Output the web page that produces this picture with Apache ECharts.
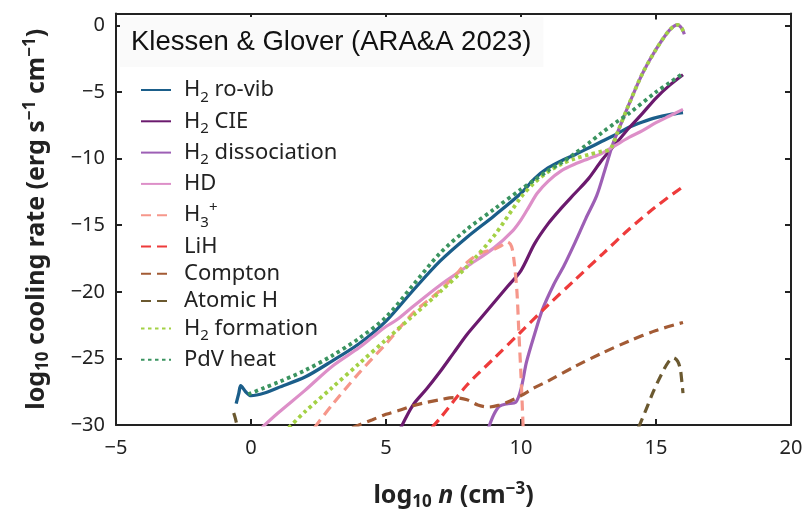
<!DOCTYPE html>
<html><head><meta charset="utf-8">
<script src="https://cdn.jsdelivr.net/npm/echarts@6/dist/echarts.min.js"></script>
<style>html,body{margin:0;padding:0;background:#fff}#c{width:806px;height:516px}</style>
</head><body><div id="c"></div>
<script>
// ---- axis settings ----
const xMin = -5, xMax = 20, xStep = 5;
const yMin = -30, yMax = 0.9, yStep = 5;

// ---- data: [log10 n, log10 cooling rate] ----
const h2RoVib = [[-0.55,-28.4],[-0.45,-27.6],[-0.38,-27.05],[-0.2,-27.5],[0,-27.8],[0.5,-27.6],[1,-27.2],[2,-26.4],[3,-25.2],[4,-23.9],[5,-22.2],[6,-19.9],[7,-17.7],[8,-15.9],[9,-14.3],[10,-12.6],[10.5,-11.5],[11,-10.7],[11.5,-10.15],[12,-9.7],[12.5,-9.2],[13,-8.7],[13.5,-8.2],[14,-7.65],[14.5,-7.25],[15,-6.92],[15.5,-6.7],[16,-6.55]];
const h2CIE = [[5.55,-30.2],[6,-28.5],[6.5,-27.3],[7,-26.0],[7.5,-24.6],[8,-23.2],[8.5,-22.0],[9,-20.8],[9.5,-19.6],[10,-18.4],[10.5,-16.4],[11,-14.9],[11.5,-13.7],[12,-12.6],[12.5,-11.5],[13,-10.1],[13.5,-8.9],[14,-7.7],[14.5,-6.6],[15,-5.45],[15.5,-4.5],[16,-3.7]];
const h2Dissociation = [[8.8,-30.2],[9.0,-29.2],[9.2,-28.6],[9.5,-28.4],[9.8,-28.3],[10.0,-27.3],[10.2,-25.3],[10.5,-23.2],[10.8,-21.3],[11.2,-19.5],[11.6,-18.0],[12.0,-16.3],[12.4,-14.5],[12.8,-12.8],[13.1,-10.9],[13.4,-8.9],[13.6,-7.9],[14,-5.9],[14.5,-3.6],[15,-1.8],[15.5,-0.35],[15.8,0.05],[15.95,-0.2],[16.05,-0.66]];
const hd = [[0.4,-30.2],[1,-29.1],[2,-27.4],[3,-25.6],[4,-24.2],[4.5,-23.4],[5,-22.6],[5.4,-22.1],[6,-21.1],[7,-19.5],[8,-18.1],[9,-16.7],[9.7,-15.4],[10,-14.6],[10.3,-13.6],[10.6,-12.6],[11,-11.7],[11.5,-10.9],[12,-10.4],[12.5,-10.0],[13,-9.6],[13.5,-9.0],[14,-8.4],[14.5,-7.9],[15,-7.3],[15.5,-6.8],[16,-6.3]];
const h3plus = [[2.35,-30.2],[3,-28.5],[4,-26.1],[5,-23.9],[6,-21.6],[7,-19.9],[7.5,-18.9],[8,-17.8],[8.5,-17.1],[9,-16.8],[9.3,-16.5],[9.5,-16.25],[9.65,-16.6],[9.75,-17.8],[9.85,-20.0],[9.92,-23.0],[10.0,-26.3],[10.08,-30.2]];
const liH = [[6.7,-30.2],[7,-29.5],[8,-27.0],[9,-25.0],[10,-23.0],[11,-21.0],[12,-19.1],[13,-17.2],[14,-15.3],[15,-13.6],[16,-12.1]];
const compton = [[3.75,-30.2],[4,-30.0],[4.5,-29.6],[5,-29.2],[5.5,-28.9],[6,-28.55],[6.5,-28.3],[7,-28.1],[7.5,-27.95],[8,-28.1],[8.4,-28.5],[8.8,-28.65],[9.2,-28.5],[9.6,-28.2],[10,-27.8],[10.5,-27.2],[11,-26.7],[12,-25.6],[13,-24.6],[14,-23.7],[15,-22.9],[16,-22.3]];
const atomicHLow = [[-0.64,-29.1],[-0.58,-29.5],[-0.5,-30.2]];
const atomicHHigh = [[14.35,-30.2],[14.6,-29.0],[14.9,-27.5],[15.2,-26.2],[15.45,-25.3],[15.65,-24.95],[15.8,-25.2],[15.9,-25.8],[15.95,-26.6],[16.0,-27.6]];
const h2Formation = [[1.4,-30.2],[2,-29.0],[3,-27.2],[4,-25.4],[5,-23.6],[6,-21.8],[7,-20.0],[8,-18.1],[9,-15.8],[10,-12.9],[10.5,-11.8],[11,-11.0],[11.5,-10.4],[12,-10.0],[12.5,-9.7],[13,-9.45],[13.3,-9.3],[13.6,-7.9],[14,-5.9],[14.5,-3.6],[15,-1.8],[15.5,-0.35],[15.8,0.05],[15.95,-0.2],[16.05,-0.66]];
const pdvHeat = [[-0.1,-27.7],[0.5,-27.2],[1,-26.8],[2,-25.9],[3,-24.8],[4,-23.5],[5,-21.9],[6,-19.5],[7,-17.1],[8,-15.3],[9,-13.8],[10,-12.3],[10.5,-11.6],[11,-10.9],[11.5,-10.3],[12,-9.6],[12.5,-8.85],[13,-8.05],[13.5,-7.3],[14,-6.6],[15,-5.0],[15.5,-4.3],[16,-3.6]];

const names = ['H2 ro-vib','H2 CIE','H2 dissociation','HD','H3+','LiH','Compton','Atomic H','H2 formation','PdV heat'];
const legendRich = {
  'H2 ro-vib': '{a|H}{s|2}{a| ro-vib}',
  'H2 CIE': '{a|H}{s|2}{a| CIE}',
  'H2 dissociation': '{a|H}{s|2}{a| dissociation}',
  'HD': '{a|HD}',
  'H3+': '{a|H}{s|3}{p|+}',
  'LiH': '{a|LiH}',
  'Compton': '{a|Compton}',
  'Atomic H': '{a|Atomic H}',
  'H2 formation': '{a|H}{s|2}{a| formation}',
  'PdV heat': '{a|PdV heat}'
};

const DASH = [10, 6], DOT = [3.5, 3.5];
function mk(name, data, color, type, width) {
  return { name, type: 'line', data, showSymbol: false, symbol: 'none', smooth: 0.3,
    clip: true, lineStyle: { color, width: width || 3, type: type || 'solid', cap: 'butt' },
    itemStyle: { color }, emphasis: { disabled: true }, animation: false };
}
const series = [
  mk('H2 ro-vib', h2RoVib, '#1b5e8a', 'solid', 3.3),
  mk('H2 CIE', h2CIE, '#6b1a6e', 'solid', 3.2),
  mk('H2 dissociation', h2Dissociation, '#9d5fb5', 'solid', 3.2),
  mk('HD', hd, '#dd8fc8', 'solid', 3.2),
  mk('H3+', h3plus, '#f6978b', DASH, 3.2),
  mk('LiH', liH, '#ee3b3b', DASH, 3.2),
  mk('Compton', compton, '#a35b35', DASH, 3.2),
  mk('Atomic H', atomicHLow, '#6b5930', DASH, 3.2),
  mk('Atomic H', atomicHHigh, '#6b5930', DASH, 3.2),
  mk('H2 formation', h2Formation, '#a3d145', DOT, 3.8),
  mk('PdV heat', pdvHeat, '#3b9460', DOT, 3.8)
];

const F = 'Noto Sans';
const fmt = v => (v < 0 ? '\u2212' + Math.abs(v) : String(v));
const axisLine = { show: true, onZero: false, lineStyle: { color: '#222', width: 2 } };
const axisTick = { show: true, inside: true, length: 6, lineStyle: { color: '#222', width: 2 } };
const titleRich = {
  a: { fontFamily: F, fontSize: 25, fontWeight: 'bold', color: '#222', lineHeight: 30 },
  i: { fontFamily: F, fontSize: 25, fontWeight: 'bold', fontStyle: 'italic', color: '#222', lineHeight: 30 },
  s: { fontFamily: F, fontSize: 17, fontWeight: 'bold', color: '#222', lineHeight: 17, verticalAlign: 'bottom' },
  p: { fontFamily: F, fontSize: 17, fontWeight: 'bold', color: '#222', lineHeight: 17, verticalAlign: 'top' }
};

const chart = echarts.init(document.getElementById('c'), null, { renderer: 'canvas' });
chart.setOption({
  animation: false,
  backgroundColor: '#ffffff',
  grid: { left: 116, right: 15, top: 13.5, bottom: 82.5, containLabel: false },
  title: {
    text: 'Klessen & Glover (ARA&A 2023)', left: 120, top: 17,
    padding: [11, 12, 11, 11], backgroundColor: '#fafafa',
    textStyle: { fontFamily: 'Liberation Sans', fontSize: 27.5, fontWeight: 'normal', color: '#111' }
  },
  legend: {
    orient: 'vertical', left: 140, top: 79, padding: 0, itemWidth: 30, itemHeight: 12, itemGap: 5.3,
    data: names, selectedMode: false,
    itemStyle: { opacity: 0 },
    formatter: n => legendRich[n],
    textStyle: {
      fontFamily: F, color: '#222', padding: [0, 0, 0, 8],
      rich: {
        a: { fontFamily: F, fontSize: 22, lineHeight: 30, color: '#222' },
        s: { fontFamily: F, fontSize: 15, lineHeight: 18, verticalAlign: 'bottom', color: '#222' },
        p: { fontFamily: F, fontSize: 15, lineHeight: 18, verticalAlign: 'top', color: '#222' }
      }
    }
  },
  xAxis: [{
    type: 'value', min: xMin, max: xMax, interval: xStep, position: 'bottom',
    axisLine, axisTick, splitLine: { show: false },
    axisLabel: { formatter: fmt, fontFamily: F, fontSize: 20, color: '#222', margin: 13 },
    name: '{a|log}{s|10}{i| n}{a| (cm}{p|\u22123}{a|)}', nameLocation: 'middle', nameGap: 56,
    nameTextStyle: { rich: titleRich }
  }, {
    type: 'value', min: xMin, max: xMax, interval: xStep, position: 'top',
    axisLine, axisTick, axisLabel: { show: false }, splitLine: { show: false }
  }],
  yAxis: [{
    type: 'value', min: yMin, max: yMax, interval: yStep, position: 'left',
    axisLine, axisTick, splitLine: { show: false },
    axisLabel: { formatter: fmt, fontFamily: F, fontSize: 20, color: '#222', margin: 11, showMaxLabel: false, padding: [0, 0, 7, 0] },
    name: '{a|log}{s|10}{a| cooling rate (erg s}{p|\u22121}{a| cm}{p|\u22121}{a|)}', nameLocation: 'middle', nameGap: 64, nameRotate: 90,
    nameTextStyle: { rich: titleRich }
  }, {
    type: 'value', min: yMin, max: yMax, interval: yStep, position: 'right',
    axisLine, axisTick, axisLabel: { show: false }, splitLine: { show: false }
  }],
  series
});
</script></body></html>
